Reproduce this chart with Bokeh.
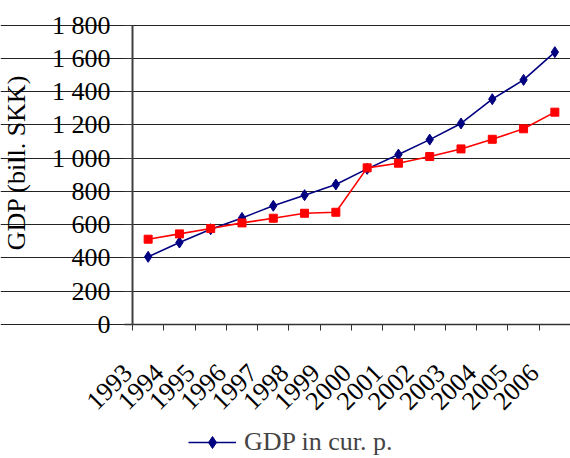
from bokeh.plotting import figure
from bokeh.models import (Range1d, FixedTicker, Legend, LegendItem, LinearAxis, Grid)
from bokeh.embed import file_html
from bokeh.resources import INLINE

years = ["1993", "1994", "1995", "1996", "1997", "1998", "1999",
         "2000", "2001", "2002", "2003", "2004", "2005", "2006"]
gdp_cur = [407, 493, 573, 641, 714, 778, 842, 936, 1022, 1112, 1209, 1355, 1471, 1638]
gdp_const = [513, 545, 577, 611, 639, 669, 675, 942, 970, 1010, 1056, 1114, 1177, 1277]
y_ticks = [0, 200, 400, 600, 800, 1000, 1200, 1400, 1600, 1800]
y_tick_labels = ["0", "200", "400", "600", "800", "1 000", "1 200", "1 400", "1 600", "1 800"]

FONT = "Liberation Serif"
FS = "26px"
n = len(years)
xs = [i + 0.5 for i in range(n)]
LABEL_SHIFT = -0.65

# The plotting frame covers the whole figure; axes are drawn at fixed locations
W, H = 570, 458
AX_X, AX_Y, TOP_Y = 132, 324, 24.7          # pixel positions of x=0, y=0, y=1800
px_x = (W - AX_X) / n
px_y = (AX_Y - TOP_Y) / 1800
x_rng = Range1d(-AX_X / px_x, n)
y_rng = Range1d(-(H - AX_Y) / px_y, 1800 + TOP_Y / px_y)

p = figure(width=W, height=H, output_backend="svg", toolbar_location=None,
           x_range=x_rng, y_range=y_rng,
           x_axis_location=None, y_axis_location=None,
           min_border_left=0, min_border_right=0, min_border_top=0, min_border_bottom=0)
p.outline_line_color = None
p.background_fill_color = "white"
p.border_fill_color = "white"
# drop the default grids created by figure()
p.center = [c for c in p.center if not isinstance(c, Grid)]

# horizontal grid lines
p.add_layout(Grid(dimension=1, ticker=FixedTicker(ticks=y_ticks), bounds=(0, n),
                  grid_line_color="#222222", grid_line_width=1))

# y axis (labels, ticks, title) at x = 0
ya = LinearAxis(fixed_location=0, bounds=(0, 1972),
                ticker=FixedTicker(ticks=y_ticks),
                major_label_overrides={t: l for t, l in zip(y_ticks, y_tick_labels)},
                major_label_text_font=FONT, major_label_text_font_size=FS,
                major_label_text_color="black", major_label_standoff=14,
                major_tick_out=8, major_tick_in=0, major_tick_line_color="#333333",
                minor_tick_line_color=None, axis_line_color=None,
                axis_label="GDP (bill. SKK)", axis_label_text_font=FONT,
                axis_label_text_font_size=FS, axis_label_text_font_style="normal",
                axis_label_text_color="black", axis_label_standoff=18)
p.add_layout(ya, "left")
# y axis line from 0 to 1 800
yline = LinearAxis(fixed_location=0, bounds=(0, 1800), ticker=FixedTicker(ticks=[]),
                   major_tick_line_color=None, minor_tick_line_color=None,
                   major_label_text_font_size="0px",
                   axis_line_color="#404040", axis_line_width=2)
p.add_layout(yline, "left")

# x axis at y = 0: tick marks at category boundaries, rotated year labels
lab_pos = [x + LABEL_SHIFT for x in xs]
xa = LinearAxis(fixed_location=0, bounds=(-0.25, n),
                ticker=FixedTicker(ticks=lab_pos, minor_ticks=list(range(n + 1))),
                major_label_overrides={x: y for x, y in zip(lab_pos, years)},
                major_label_orientation=0.785398,
                major_label_text_font=FONT, major_label_text_font_size=FS,
                major_label_text_color="black", major_label_standoff=38,
                major_tick_line_color=None,
                minor_tick_out=6, minor_tick_in=0, minor_tick_line_color="#333333",
                axis_line_color="#333333", axis_line_width=1.5)
p.add_layout(xa, "below")

l1 = p.line(xs, gdp_cur, line_color="#000080", line_width=1.6)
m1 = p.scatter(xs, gdp_cur, marker="diamond", size=11, fill_color="#000080", line_color="#000080")
l2 = p.line(xs, gdp_const, line_color="#FF0000", line_width=1.6)
m2 = p.scatter(xs, gdp_const, marker="square", size=8, fill_color="#FF0000", line_color="#FF0000")

legend = Legend(items=[LegendItem(label="GDP in cur. p.", renderers=[l1, m1]),
                       LegendItem(label="GDP in const. p.", renderers=[l2, m2])],
                location=(188, -29), orientation="vertical",
                label_text_font=FONT, label_text_font_size=FS,
                glyph_width=48, glyph_height=30, label_height=30, label_standoff=8,
                padding=0, margin=0, spacing=-7,
                border_line_color=None, background_fill_alpha=0)
p.add_layout(legend, "center")

open("out.html", "w").write(file_html(p, INLINE))
